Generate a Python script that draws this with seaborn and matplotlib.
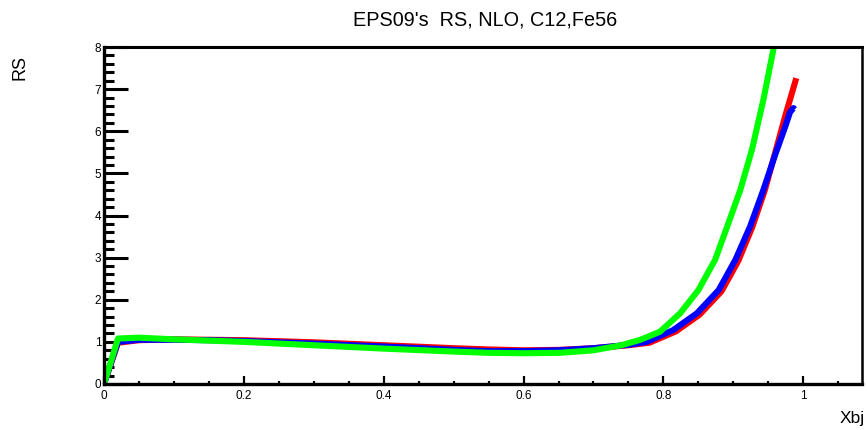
import matplotlib
matplotlib.use("Agg")
import matplotlib.pyplot as plt
import seaborn as sns
import pandas as pd
from matplotlib.ticker import MultipleLocator

# Data
x_red = [0.0, 0.02, 0.05, 0.1, 0.15, 0.2, 0.3, 0.4, 0.5, 0.55, 0.6, 0.65, 0.7, 0.75, 0.78, 0.818, 0.852, 0.883, 0.907, 0.927, 0.945, 0.96, 0.974, 0.99]
y_red = [0.0, 0.98, 1.04, 1.06, 1.05, 1.04, 0.99, 0.92, 0.85, 0.82, 0.80, 0.81, 0.85, 0.92, 0.98, 1.25, 1.65, 2.2, 2.92, 3.72, 4.6, 5.5, 6.35, 7.26]

x_blue = [0.0, 0.02, 0.05, 0.1, 0.15, 0.2, 0.3, 0.4, 0.5, 0.55, 0.6, 0.65, 0.7, 0.75, 0.776, 0.814, 0.848, 0.879, 0.903, 0.924, 0.943, 0.96, 0.974, 0.981, 0.986, 0.988]
y_blue = [0.0, 1.0, 1.05, 1.05, 1.04, 1.02, 0.96, 0.89, 0.81, 0.78, 0.78, 0.80, 0.85, 0.93, 1.0, 1.28, 1.68, 2.23, 2.95, 3.74, 4.61, 5.45, 6.1, 6.45, 6.55, 6.52]

x_green = [0.0, 0.02, 0.05, 0.1, 0.15, 0.2, 0.3, 0.4, 0.5, 0.55, 0.6, 0.652, 0.7, 0.74, 0.767, 0.795, 0.824, 0.85, 0.874, 0.893, 0.91, 0.9266, 0.943, 0.958]
y_green = [0.0, 1.08, 1.1, 1.06, 1.03, 1.0, 0.92, 0.84, 0.77, 0.74, 0.73, 0.74, 0.80, 0.92, 1.05, 1.24, 1.68, 2.23, 2.95, 3.82, 4.61, 5.56, 6.75, 8.0]

x_ticks = [0, 0.2, 0.4, 0.6, 0.8, 1]
x_tick_labels = ["0", "0.2", "0.4", "0.6", "0.8", "1"]
y_ticks = [0, 1, 2, 3, 4, 5, 6, 7, 8]

sns.set_style("ticks")
plt.rcParams['font.family'] = ['Liberation Sans', 'DejaVu Sans']
plt.rcParams['text.color'] = 'black'
plt.rcParams['xtick.color'] = 'black'
plt.rcParams['ytick.color'] = 'black'
plt.rcParams['xtick.labelcolor'] = 'black'
plt.rcParams['ytick.labelcolor'] = 'black'

fig = plt.figure(figsize=(8.67, 4.30), dpi=100)
ax = fig.add_axes([104/867, (430-384)/430, (862-104)/867, (384-47)/430])

for xs, ys, col in [(x_red, y_red, "#ff0000"), (x_blue, y_blue, "#0000ff"), (x_green, y_green, "#00ff00")]:
    df = pd.DataFrame({"x": xs, "y": ys})
    sns.lineplot(data=df, x="x", y="y", ax=ax, color=col, linewidth=4.4,
                 sort=False, estimator=None, solid_capstyle="butt", solid_joinstyle="round")

ax.set_xlim(0, 1.084)
ax.set_ylim(0, 8)
ax.set_xticks(x_ticks)
ax.set_xticklabels(x_tick_labels)
ax.set_yticks(y_ticks)
ax.xaxis.set_minor_locator(MultipleLocator(0.05))
ax.yaxis.set_minor_locator(MultipleLocator(0.2))
ax.tick_params(axis="y", which="major", direction="in", length=17, width=2.2, labelsize=8.5, pad=2, colors="black")
ax.tick_params(axis="y", which="minor", direction="in", length=7, width=2.2, colors="black")
ax.tick_params(axis="x", which="major", direction="in", length=6, width=1.6, labelsize=8.5, pad=4, colors="black")
ax.tick_params(axis="x", which="minor", direction="in", length=2.5, width=1.6, colors="black")
ax.tick_params(top=False, right=False, which="both")
for side, lw in [("left", 2.4), ("bottom", 2.4), ("top", 2.2), ("right", 1.8)]:
    ax.spines[side].set_visible(True)
    ax.spines[side].set_linewidth(lw)
    ax.spines[side].set_color("black")
ax.set_xlabel("")
ax.set_ylabel("")

fig.text(485/867, 1 - 20/430, "EPS09's  RS, NLO, C12,Fe56", ha="center", va="center", fontsize=14.3, color="black")
fig.text(20/867, 1 - 68/430, "RS", rotation=90, ha="center", va="center", fontsize=13, color="black")
fig.text(865/867, 1 - 418/430, "Xbj", ha="right", va="center", fontsize=12.5, color="black")

fig.savefig("out.png", dpi=100)
